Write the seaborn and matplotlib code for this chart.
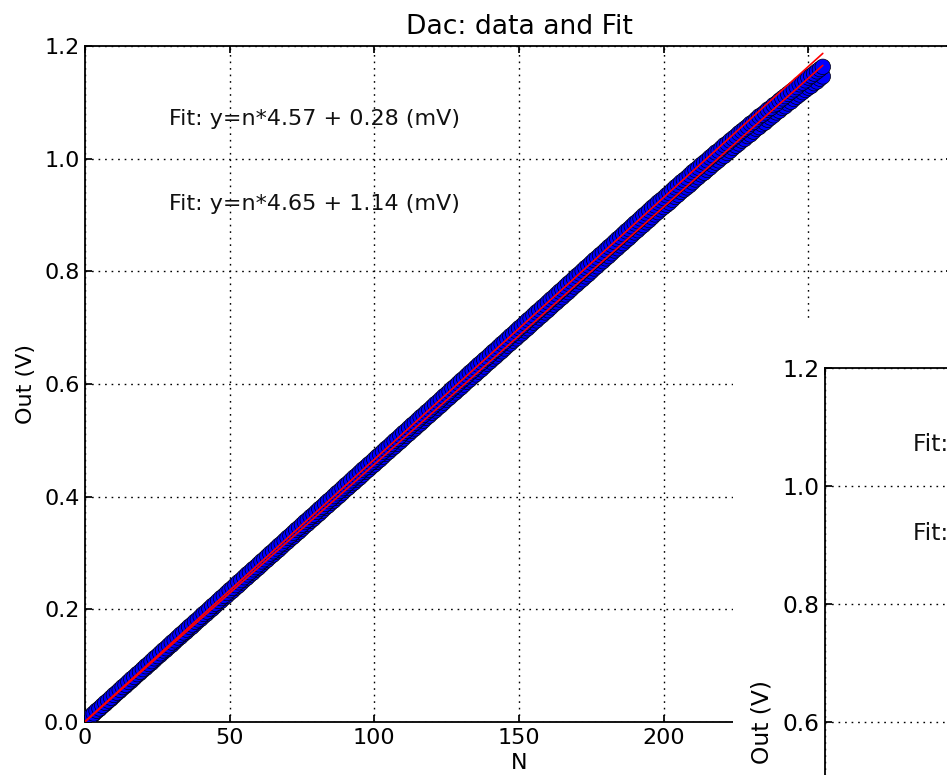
import matplotlib
matplotlib.use("Agg")
import matplotlib.pyplot as plt
import seaborn as sns
import pandas as pd

# ---- data ----
N = list(range(0, 256))  # DAC code
out_a_mV = [
    0, 5, 9, 14, 19, 23, 28, 32, 37, 41,
    46, 51, 55, 60, 64, 69, 73, 78, 83, 87,
    92, 96, 101, 105, 110, 115, 119, 124, 128, 133,
    137, 142, 147, 151, 156, 160, 165, 169, 174, 179,
    183, 188, 192, 197, 201, 206, 211, 215, 220, 224,
    229, 233, 238, 242, 247, 252, 256, 261, 265, 270,
    274, 279, 284, 288, 293, 297, 302, 306, 311, 316,
    320, 325, 329, 334, 338, 343, 348, 352, 357, 361,
    366, 370, 375, 380, 384, 389, 393, 398, 402, 407,
    412, 416, 421, 425, 430, 434, 439, 444, 448, 453,
    457, 462, 466, 471, 476, 480, 485, 489, 494, 498,
    503, 508, 512, 517, 521, 526, 530, 535, 540, 544,
    549, 553, 558, 562, 567, 572, 576, 581, 585, 590,
    594, 599, 604, 608, 613, 617, 622, 626, 631, 636,
    640, 645, 649, 654, 658, 663, 668, 672, 677, 681,
    686, 690, 695, 699, 704, 709, 713, 718, 722, 727,
    731, 736, 741, 745, 750, 754, 759, 763, 768, 773,
    777, 782, 786, 791, 795, 800, 805, 809, 814, 818,
    823, 827, 832, 837, 841, 846, 850, 855, 859, 864,
    869, 873, 878, 882, 887, 891, 896, 901, 905, 910,
    914, 918, 922, 927, 932, 936, 941, 945, 949, 953,
    958, 963, 967, 972, 975, 980, 984, 989, 993, 997,
    1002, 1005, 1010, 1014, 1019, 1023, 1027, 1032, 1035, 1040,
    1043, 1048, 1053, 1056, 1061, 1064, 1069, 1073, 1077, 1082,
    1085, 1090, 1093, 1098, 1101, 1106, 1110, 1114, 1118, 1122,
    1126, 1129, 1134, 1137, 1142, 1146]
out_b_mV = [
    1, 6, 10, 15, 20, 24, 29, 34, 38, 43,
    48, 52, 57, 62, 66, 71, 76, 80, 85, 89,
    94, 99, 103, 108, 113, 117, 122, 127, 131, 136,
    141, 145, 150, 155, 159, 164, 169, 173, 178, 182,
    187, 192, 196, 201, 206, 210, 215, 220, 224, 229,
    234, 238, 243, 248, 252, 257, 262, 266, 271, 275,
    280, 285, 289, 294, 299, 303, 308, 313, 317, 322,
    327, 331, 336, 341, 345, 350, 355, 359, 364, 368,
    373, 378, 382, 387, 392, 396, 401, 406, 410, 415,
    420, 424, 429, 434, 438, 443, 448, 452, 457, 461,
    466, 471, 475, 480, 485, 489, 494, 499, 503, 508,
    513, 517, 522, 527, 531, 536, 541, 545, 550, 554,
    559, 564, 568, 573, 578, 582, 587, 592, 596, 601,
    606, 610, 615, 620, 624, 629, 634, 638, 643, 647,
    652, 657, 661, 666, 671, 675, 680, 685, 689, 694,
    699, 703, 708, 713, 717, 722, 727, 731, 736, 740,
    745, 750, 754, 759, 764, 768, 773, 778, 782, 787,
    792, 796, 801, 806, 810, 815, 820, 824, 829, 833,
    838, 843, 847, 852, 857, 861, 866, 871, 875, 880,
    885, 889, 894, 899, 903, 908, 913, 917, 922, 926,
    930, 935, 939, 944, 949, 953, 958, 962, 966, 971,
    976, 980, 984, 989, 993, 997, 1002, 1006, 1011, 1014,
    1019, 1024, 1027, 1032, 1036, 1040, 1045, 1049, 1053, 1057,
    1062, 1065, 1070, 1075, 1078, 1082, 1087, 1090, 1095, 1098,
    1103, 1107, 1111, 1115, 1119, 1123, 1127, 1132, 1135, 1139,
    1144, 1147, 1151, 1155, 1159, 1163]
fit_slope_mV = [4.57, 4.65]
fit_offset_mV = [0.28, 1.14]
fit_labels = ["Fit: y=n*4.57 + 0.28 (mV)", "Fit: y=n*4.65 + 1.14 (mV)"]
fit_text_y = [1.07, 0.92]
x_ticks = [0, 50, 100, 150, 200, 250, 300]
x_ticklabels = ["0", "50", "100", "150", "200", "", ""]  # 250/300 hidden behind the second window
y_ticks = [0.0, 0.2, 0.4, 0.6, 0.8, 1.0, 1.2]

sns.set_theme(style="white")
plt.rcParams['font.family'] = ['DejaVu Sans']
plt.rcParams['text.color'] = 'black'
plt.rcParams['axes.labelcolor'] = 'black'

data = pd.DataFrame({
    "N": N * 2,
    "Out": [v / 1000 for v in out_a_mV] + [v / 1000 for v in out_b_mV],
    "set": ["a"] * len(N) + ["b"] * len(N),
})
n_line = [0, 255]
fits = pd.DataFrame({
    "N": n_line * 2,
    "Out": [(fit_slope_mV[i] * n + fit_offset_mV[i]) / 1000 for i in range(2) for n in n_line],
    "fit": ["a", "a", "b", "b"],
})

W, H = 947, 775
fig = plt.figure(figsize=(W / 100, H / 100), dpi=100)
fig.patch.set_facecolor("white")

BASE = 16.0


def draw(ax, scale=1.0, title=True, xlabels=None):
    sns.scatterplot(data=data, x="N", y="Out", hue="set", palette=["#0000ff", "#0000ff"],
                    s=125, edgecolor="black", linewidth=0.5, legend=False, ax=ax, zorder=3)
    sns.lineplot(data=fits, x="N", y="Out", hue="fit", palette=["red", "red"],
                 linewidth=1.2, legend=False, ax=ax, zorder=4)
    ax.set_xlim(0, 300)
    ax.set_ylim(0, 1.2)
    ax.set_xticks(x_ticks)
    ax.set_xticklabels(xlabels if xlabels is not None else [str(v) for v in x_ticks])
    ax.set_yticks(y_ticks)
    ax.set_yticklabels([f"{v:.1f}" for v in y_ticks])
    ax.grid(True, color="black", linestyle=(0, (1.2, 3.5)), linewidth=1.0)
    ax.set_axisbelow(True)
    ax.tick_params(direction="in", length=5, labelsize=BASE * scale, pad=4, colors="black",
                   top=True, right=True, bottom=True, left=True)
    for sp in ax.spines.values():
        sp.set_color("black")
        sp.set_linewidth(1.3)
    ax.set_xlabel("N", fontsize=BASE * scale, labelpad=4)
    ax.set_ylabel("Out (V)", fontsize=BASE * scale, labelpad=6)
    if title:
        ax.set_title("Dac: data and Fit", fontsize=BASE * 1.2 * scale, pad=9)
    for lbl, yy in zip(fit_labels, fit_text_y):
        ax.text(29, yy, lbl, fontsize=BASE * scale, ha="left", va="center", color="#111111")


# main axes (extends past the right edge, as in the cropped original)
ax = fig.add_axes([85 / W, 1 - 722 / H, 868 / W, 676 / H])
draw(ax, xlabels=x_ticklabels)
ax.set_zorder(0)

# white cover of the overlapping second window
cover = fig.add_axes([733 / W, 0, 1 - 733 / W + 0.05, 1 - 320 / H])
cover.set_facecolor("white")
cover.set_xticks([])
cover.set_yticks([])
for sp in cover.spines.values():
    sp.set_visible(False)
cover.set_zorder(1)

# second (overlapping) copy of the figure
sc = 1.047
ax2 = fig.add_axes([825 / W, 1 - 1076 / H, 868 * sc / W, 708 / H])
draw(ax2, scale=1.05, title=False)
ax2.set_zorder(2)

fig.savefig("out.png", dpi=100, facecolor="white")
